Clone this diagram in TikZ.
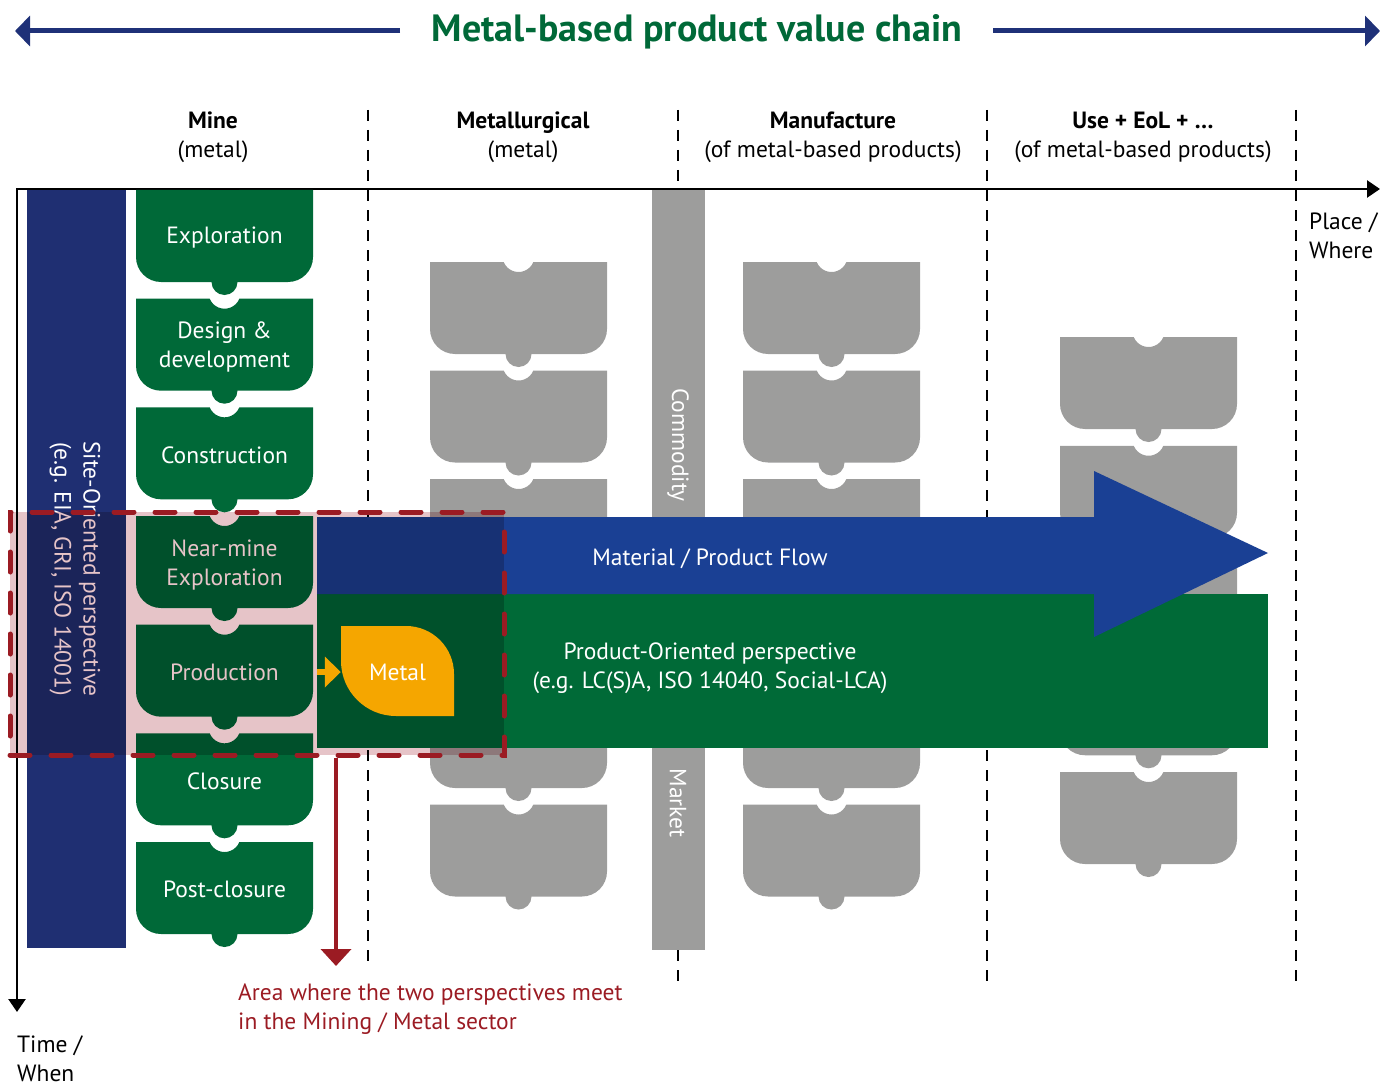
\documentclass[tikz,border=0pt]{standalone}
\usepackage{fontspec}
\setmainfont{PT Sans}
\usetikzlibrary{arrows.meta}

\definecolor{siteblue}{RGB}{31,47,114}
\definecolor{stagegreen}{RGB}{0,105,56}
\definecolor{stepgray}{RGB}{157,157,156}
\definecolor{flowblue}{RGB}{26,64,148}
\definecolor{flowgreen}{RGB}{0,106,55}
\definecolor{meetred}{RGB}{155,27,35}
\definecolor{meetpink}{RGB}{230,196,200}
\definecolor{metalorange}{RGB}{245,166,0}
\definecolor{chainnavy}{RGB}{31,49,120}

% one life-cycle step: notch on top, rounded bottom with a tab
% #1 = left, #2 = top, #3 = colour
\newcommand{\stagetab}[3]{%
  \fill[#3] (#1,#2) -- (#1+73.7,#2) arc[start angle=158,end angle=22,radius=16]
    -- (#1+177,#2) -- (#1+177,#2+67) arc[start angle=0,end angle=90,radius=25]
    -- (#1+101.5,#2+92) arc[start angle=0,end angle=180,radius=13]
    -- (#1+25,#2+92) arc[start angle=90,end angle=180,radius=25] -- cycle;}

\begin{document}
\begin{tikzpicture}[x=1pt,y=-1pt,
    font=\fontsize{23.5}{29}\selectfont,
    stagetxt/.style={text=white,align=center,inner sep=0pt,minimum width=177pt,minimum height=92pt},
    colhead/.style={align=center},
    colsep/.style={line width=2.8pt,dash pattern=on 11pt off 9pt},
    axis/.style={line width=2.5pt,{Triangle[length=13pt,width=17pt]}-{Triangle[length=13pt,width=17pt]}},
    chainarrow/.style={line width=5pt,draw=chainnavy,-{Triangle[length=15pt,width=30pt]}},
    sidetxt/.style={text=white,rotate=-90,align=center},
    meetarrow/.style={line width=4pt,draw=meetred,-{Triangle[length=17pt,width=30pt]}}]
    \useasboundingbox (0,0) rectangle (1391,1086);

    % Title with arrows on both sides
    \node[font=\fontsize{38}{42}\selectfont\bfseries,text=stagegreen] (title) at (697,32) {Metal-based product value chain};
    \coordinate (lefttip) at (15,31);
    \coordinate (righttip) at (1380,31);
    \draw[chainarrow] (400,31) -- (lefttip);
    \draw[chainarrow] (993,31) -- (righttip);

    % Column headers
    \node[colhead] (mine) at (213,137) {\textbf{Mine}\\(metal)};
    \node[colhead] (metallurgy) at (523,137) {\textbf{Metallurgical}\\(metal)};
    \node[colhead] (manuf) at (833,137) {\textbf{Manufacture}\\(of metal-based products)};
    \node[colhead] (useeol) at (1143,137) {\textbf{Use + EoL + …}\\(of metal-based products)};

    % Column separators
    \draw[colsep] (368,110) -- (368,965);
    \draw[colsep] (678,110) -- (678,990);
    \draw[colsep] (987,110) -- (987,990);
    \draw[colsep] (1296,110) -- (1296,990);

    % Axes
    \coordinate (placeend) at (1380,189);
    \coordinate (origin) at (17,189);
    \coordinate (timeend) at (17,1012);
    \draw[axis] (placeend) -- (origin) -- (timeend);
    \node[anchor=north west,align=left,inner sep=0pt] (place) at (1309,213) {Place /\\Where};
    \node[anchor=north west,align=left,inner sep=0pt] (time) at (17,1036) {Time /\\When};

    % Site-oriented band
    \fill[siteblue] (27,190) rectangle (126,948);

    % Mine steps
    \stagetab{136}{190}{stagegreen}
    \fill[stagegreen] (136,190) rectangle (313,201);
    \foreach \y in {298.7,407.3,516,624.7,733.3,842}
        \stagetab{136}{\y}{stagegreen};

    % Generic steps further down the chain
    \foreach \y in {262,370.5,479,587.5,696,804.5} {
        \stagetab{430}{\y}{stepgray}
        \stagetab{743}{\y}{stepgray}
    }
    \foreach \y in {337,445.75,554.5,663.25,772}
        \stagetab{1060}{\y}{stepgray};

    % Commodity / market bar
    \fill[stepgray] (652,190) rectangle (705,950);
    \node[sidetxt] (commodity) at (678,445) {Commodity};
    \node[sidetxt] (market) at (678,803) {Market};

    % Material / product flow arrow
    \fill[flowgreen] (317,594) rectangle (1268,748);
    \fill[flowblue] (317,517) -- (1094,517) -- (1094,471) -- (1268,553)
        -- (1094,637) -- (1094,594) -- (317,594) -- cycle;
    \node[text=white] (flow) at (710,559) {Material / Product Flow};
    \node[text=white,align=center] (prodpersp) at (710,668) {Product-Oriented perspective\\(e.g. LC(S)A, ISO 14040, Social-LCA)};

    % Step labels
    \node[stagetxt] (explo) at (224.5,238) {Exploration};
    \node[stagetxt] (design) at (224.5,347) {Design \&\\development};
    \node[stagetxt] (constr) at (224.5,455) {Construction};
    \node[stagetxt] (nearmine) at (224.5,565) {Near-mine\\Exploration};
    \node[stagetxt] (prod) at (224.5,672) {Production};
    \node[stagetxt] (closure) at (224.5,781) {Closure};
    \node[stagetxt] (postcl) at (224.5,889) {Post-closure};
    \node[sidetxt] (sitepersp) at (75,569) {Site-Oriented perspective\\(e.g. EIA, GRI, ISO 14001)};

    % Overlap of both perspectives
    \begin{scope}[blend mode=multiply]
        \fill[meetpink] (10,512) rectangle (504,755);
    \end{scope}

    % Metal leaf
    \fill[metalorange] (341,626) -- (406,626) arc[start angle=270,end angle=360,radius=48]
        -- (454,716) -- (396,716) arc[start angle=90,end angle=180,radius=55] -- cycle;
    \node[text=white,inner sep=0pt,minimum width=113pt,minimum height=90pt] (metal) at (397.5,672) {Metal};
    \draw[line width=6pt,draw=metalorange,-{Triangle[length=16pt,width=30pt]}] ([xshift=4pt]prod.east) -- (metal.west);

    % Dashed frame and note
    \node[draw=meetred,line width=5pt,dash pattern=on 20pt off 21pt,line cap=round,
        inner sep=0pt,minimum width=494pt,minimum height=243pt] (meet) at (257,633.5) {};
    \coordinate (meetend) at (336,966);
    \draw[meetarrow] (meet.south -| meetend) -- (meetend);
    \node[anchor=north west,align=left,inner sep=0pt,text=meetred] (note) at (238,984)
        {Area where the two perspectives meet\\in the Mining / Metal sector};
\end{tikzpicture}
\end{document}
